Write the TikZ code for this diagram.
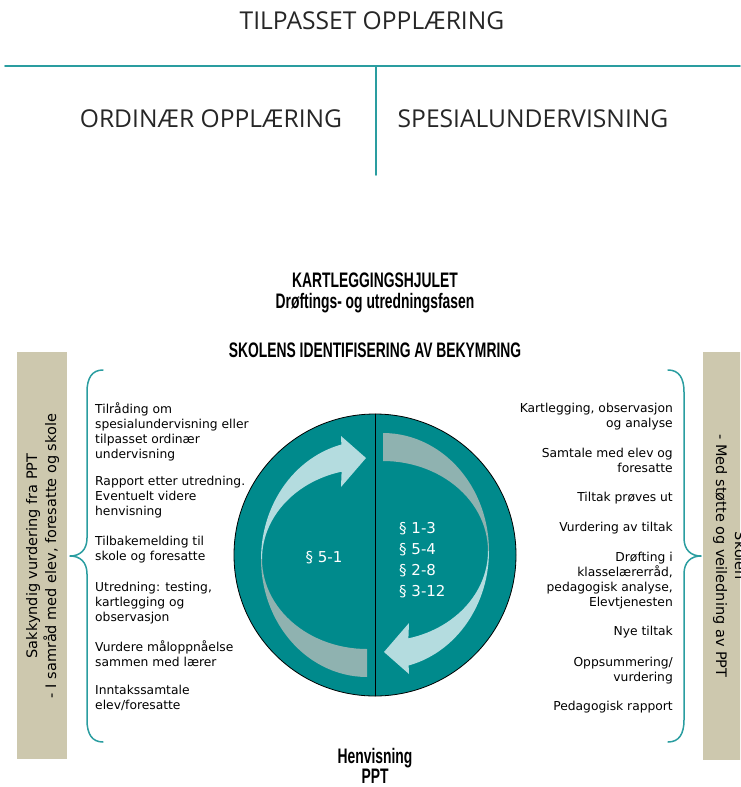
\documentclass[tikz,border=0pt]{standalone}
\usepackage{fontspec}
\setmainfont{DejaVu Sans}
\newfontfamily\lightfont{Open Sans}
\newfontfamily\narrowfont[FakeStretch=0.66]{Liberation Sans}

\definecolor{tealline}{HTML}{2A9DA0}
\definecolor{wheelfill}{HTML}{008A8C}
\definecolor{arrowlight}{HTML}{B4DCDF}
\definecolor{arrowgrey}{HTML}{8FB2B0}
\definecolor{sidebox}{HTML}{CDC8AE}

\begin{document}
\begin{tikzpicture}[x=1pt, y=-1pt, line cap=round, line join=round]
  % ---- Styles ----
  \tikzset{
    heading/.style={font=\lightfont\fontsize{24.6}{28}\selectfont, text=black!85, inner sep=0, anchor=base},
    wheelhead/.style={font=\narrowfont\bfseries\fontsize{21}{23}\selectfont, inner sep=0, anchor=base},
    task/.style={font=\fontsize{12.3}{15}\selectfont, inner sep=0},
    sidetext/.style={font=\fontsize{14.5}{19}\selectfont, align=center, inner sep=0},
    para/.style={font=\fontsize{15}{21}\selectfont, text=white, inner sep=0},
    rule/.style={draw=tealline, line width=1.6pt},
    brace/.style={draw=tealline, line width=1.5pt},
  }

  \useasboundingbox (0,0) rectangle (740,787);

  % ---- Top: the two kinds of teaching ----
  \node[heading] (tilpasset) at (372,29) {TILPASSET OPPLÆRING};
  \draw[rule] (5,66) -- (740,66);
  \draw[rule] (376,66) -- (376,175);
  \node[heading] (ordinaer) at (211,127) {ORDINÆR OPPLÆRING};
  \node[heading] (spesial) at (533,127) {SPESIALUNDERVISNING};

  % ---- Wheel headings ----
  \node[wheelhead] (hjul) at (375,287) {KARTLEGGINGSHJULET};
  \node[wheelhead] (fase) at (375,308) {Drøftings- og utredningsfasen};
  \node[wheelhead] (bekymring) at (375,357.5) {SKOLENS IDENTIFISERING AV BEKYMRING};
  \node[wheelhead] (henvisning) at (375,763) {Henvisning};
  \node[wheelhead] (pptnode) at (375,783) {PPT};

  % ---- Side boxes ----
  \fill[sidebox] (17,352) rectangle (67,759);
  \node[sidetext, rotate=90] (pptside) at (42.5,556)
    {Sakkyndig vurdering fra PPT\\- I samråd med elev, foresatte og skole};
  \begin{scope}
    \clip (703,352) rectangle (740,760);
    \fill[sidebox] (703,352) rectangle (745,760);
    \node[sidetext, rotate=-90] (skolenside) at (729.5,556)
      {Skolen\\- Med støtte og veiledning av PPT};
  \end{scope}

  % ---- Braces ----
  \draw[brace] (103,370) .. controls (92,370) and (87,378) .. (87,392) -- (87,538)
    .. controls (87,550) and (80,556) .. (70,556)
    .. controls (80,556) and (87,562) .. (87,574) -- (87,720)
    .. controls (87,734) and (92,742) .. (103,742);
  \draw[brace] (668,370) .. controls (679,370) and (684,378) .. (684,392) -- (684,538)
    .. controls (684,550) and (691,556) .. (701,556)
    .. controls (691,556) and (684,562) .. (684,574) -- (684,720)
    .. controls (684,734) and (679,742) .. (668,742);

  % ---- PPT steps (left) ----
  \node[task, align=left, anchor=north west] (t1) at (95,402)
    {Tilråding om\\spesialundervisning eller\\tilpasset ordinær\\undervisning};
  \node[task, align=left, anchor=north west] (t2) at (95,476)
    {Rapport etter utredning.\\Eventuelt videre\\henvisning};
  \node[task, align=left, anchor=north west] (t3) at (95,536)
    {Tilbakemelding til\\skole og foresatte};
  \node[task, align=left, anchor=north west] (t4) at (95,582)
    {Utredning: testing,\\kartlegging og\\observasjon};
  \node[task, align=left, anchor=north west] (t5) at (95,640)
    {Vurdere måloppnåelse\\sammen med lærer};
  \node[task, align=left, anchor=north west] (t6) at (95,685)
    {Inntakssamtale\\elev/foresatte};

  % ---- School steps (right) ----
  \node[task, align=right, anchor=north east] (s1) at (673,403)
    {Kartlegging, observasjon\\og analyse};
  \node[task, align=right, anchor=north east] (s2) at (673,448)
    {Samtale med elev og\\foresatte};
  \node[task, align=right, anchor=north east] (s3) at (673,492) {Tiltak prøves ut};
  \node[task, align=right, anchor=north east] (s4) at (673,522) {Vurdering av tiltak};
  \node[task, align=right, anchor=north east] (s5) at (673,552)
    {Drøfting i\\klasselærerråd,\\pedagogisk analyse,\\Elevtjenesten};
  \node[task, align=right, anchor=north east] (s6) at (673,626) {Nye tiltak};
  \node[task, align=right, anchor=north east] (s7) at (673,657)
    {Oppsummering/\\vurdering};
  \node[task, align=right, anchor=north east] (s8) at (673,701) {Pedagogisk rapport};

  % ---- Wheel ----
  \coordinate (hub) at (375,555);
  \fill[wheelfill] (hub) circle (141);

  \def\outerx{106} \def\outery{118}
  \def\innerx{105} \def\innery{90}
  \foreach \turn in {0,180} {
    \begin{scope}[rotate around={\turn:(hub)}, shift={(367,559)}]
      % front of the band, with the head
      \fill[arrowlight] plot[domain=180:256, samples=30] ({\outerx*cos(\x)},{\outery*sin(\x)})
        -- (-26,-123) -- (-1,-101) -- (-26,-72)
        -- plot[domain=256:180, samples=30] ({\innerx*cos(\x)},{\innery*sin(\x)}) -- cycle;
      % back of the band
      \fill[arrowgrey] plot[domain=180:90, samples=30] ({\outerx*cos(\x)},{\outery*sin(\x)})
        -- plot[domain=90:180, samples=30] ({\innerx*cos(\x)},{\innery*sin(\x)}) -- cycle;
    \end{scope}
  }

  \draw[line width=0.8pt] (hub) circle (141);
  \draw[line width=0.8pt] (hub) +(0,-141) -- +(0,141);

  % Paragraphs
  \node[para] (lov51) at (324,558) {§ 5-1};
  \node[para, align=left, anchor=west] (lovliste) at (399,560)
    {§ 1-3\\§ 5-4\\§ 2-8\\§ 3-12};

\end{tikzpicture}
\end{document}
